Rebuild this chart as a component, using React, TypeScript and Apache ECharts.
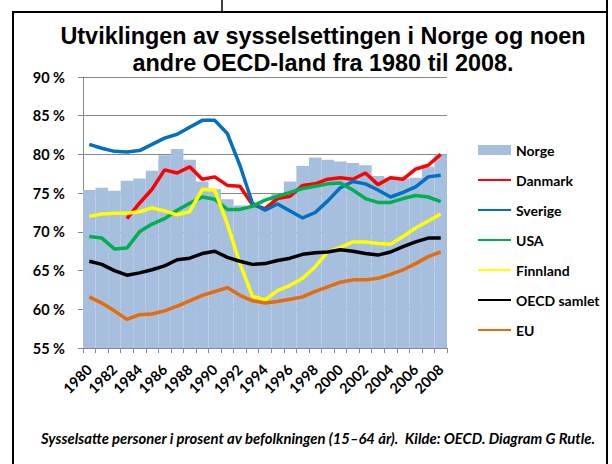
import React, { useEffect, useRef } from "react";
import * as echarts from "echarts";

const years = Array.from({ length: 29 }, (_, i) => String(1980 + i));

const norge = [75.4, 75.7, 75.3, 76.6, 76.9, 77.9, 79.9, 80.7, 79.3, 76.5, 75.5, 74.2, 73.4, 73.2, 73.0, 74.9, 76.5, 78.5, 79.6, 79.3, 79.1, 78.9, 78.6, 77.2, 77.0, 76.9, 77.0, 78.4, 80.0];
const danmark = [null, null, null, 71.7, 73.7, 75.5, 78.0, 77.6, 78.4, 76.8, 77.1, 76.0, 75.9, 73.5, 73.0, 74.3, 74.6, 76.0, 76.2, 76.8, 77.0, 76.8, 77.6, 76.1, 77.0, 76.8, 78.1, 78.6, 80.0];
const sverige = [81.3, 80.8, 80.4, 80.3, 80.5, 81.3, 82.1, 82.6, 83.5, 84.4, 84.4, 82.7, 78.6, 73.7, 72.8, 73.6, 72.7, 71.8, 72.5, 74.0, 75.7, 76.5, 76.2, 75.4, 74.5, 75.1, 75.8, 77.1, 77.3];
const usa = [69.4, 69.2, 67.8, 67.9, 70.0, 71.0, 71.7, 72.8, 73.7, 74.5, 74.2, 72.9, 72.9, 73.3, 74.1, 74.6, 75.1, 75.6, 75.9, 76.2, 76.3, 75.4, 74.3, 73.8, 73.8, 74.3, 74.7, 74.5, 73.9];
const finnland = [72.0, 72.3, 72.4, 72.4, 72.6, 73.1, 72.7, 72.2, 72.6, 75.5, 75.4, 71.0, 65.9, 61.7, 61.2, 62.4, 63.1, 64.0, 65.5, 67.4, 68.0, 68.7, 68.7, 68.5, 68.4, 69.4, 70.5, 71.4, 72.3];
const oecd = [66.2, 65.8, 65.0, 64.4, 64.7, 65.1, 65.6, 66.4, 66.6, 67.2, 67.5, 66.7, 66.2, 65.8, 65.9, 66.3, 66.6, 67.1, 67.3, 67.4, 67.7, 67.5, 67.2, 67.0, 67.4, 68.1, 68.7, 69.2, 69.2];
const eu = [61.6, 60.8, 59.8, 58.7, 59.3, 59.4, 59.8, 60.4, 61.1, 61.8, 62.3, 62.8, 61.8, 61.1, 60.8, 61.0, 61.3, 61.6, 62.3, 62.9, 63.5, 63.8, 63.8, 64.0, 64.5, 65.1, 65.9, 66.8, 67.4];

const titleLines = ["Utviklingen av sysselsettingen i Norge og noen", "andre OECD-land fra 1980 til 2008."];
const footnote = "Sysselsatte personer i prosent av befolkningen (15\u201364 år).  Kilde: OECD. Diagram G Rutle.";

const FONT = "Lato, 'Open Sans', sans-serif";

export default function App() {
  const ref = useRef<HTMLDivElement>(null);
  useEffect(() => {
    if (!ref.current) return;
    const chart = echarts.init(ref.current, null, { renderer: "svg" });
    const lineSeries = (name: string, data: (number | null)[], color: string) => ({
      name,
      type: "line",
      data,
      symbol: "none",
      smooth: false,
      connectNulls: false,
      lineStyle: { color, width: 3.5 },
      itemStyle: { color },
      z: 3,
    });
    const lineLegend = (name: string) => ({ name, itemStyle: { opacity: 0 } });
    chart.setOption({
      animation: false,
      backgroundColor: "#fff",
      textStyle: { fontFamily: FONT },
      title: {
        text: titleLines.join("\n"),
        left: 318,
        textAlign: "center",
        top: 17,
        textStyle: {
          fontFamily: "'Liberation Sans', Arial, sans-serif",
          fontSize: 23.4,
          fontWeight: "bold",
          color: "#000",
          lineHeight: 27,
        },
      },
      legend: {
        orient: "vertical",
        left: 472,
        top: 130,
        itemWidth: 33,
        itemHeight: 10,
        itemGap: 0,
        textStyle: {
          fontFamily: FONT,
          fontSize: 14,
          fontWeight: "bold",
          color: "#000",
          lineHeight: 30,
        },
        data: [
          { name: "Norge", icon: "rect" },
          lineLegend("Danmark"),
          lineLegend("Sverige"),
          lineLegend("USA"),
          lineLegend("Finnland"),
          lineLegend("OECD samlet"),
          lineLegend("EU"),
        ],
      },
      grid: { left: 83, right: 165, top: 77, bottom: 116, containLabel: false },
      xAxis: {
        type: "category",
        data: years,
        boundaryGap: true,
        axisLine: { lineStyle: { color: "#888", width: 1 } },
        axisTick: { show: true, interval: 0, length: 5, lineStyle: { color: "#888" } },
        axisLabel: {
          interval: 1,
          rotate: 45,
          fontFamily: FONT,
          fontSize: 14.5,
          fontWeight: "bold",
          color: "#000",
          margin: 19,
        },
        splitLine: { show: false },
      },
      yAxis: {
        type: "value",
        min: 55,
        max: 90,
        interval: 5,
        axisLine: { show: true, lineStyle: { color: "#888", width: 1 } },
        axisTick: { show: true, length: 5, lineStyle: { color: "#888" } },
        axisLabel: {
          formatter: (v: number) => `${v} %`,
          fontFamily: FONT,
          fontSize: 14.5,
          fontWeight: "bold",
          color: "#000",
          margin: 18,
        },
        splitLine: { show: true, lineStyle: { color: "#868686", width: 1 } },
      },
      series: [
        {
          name: "Norge",
          type: "bar",
          data: norge,
          barWidth: "100%",
          barCategoryGap: "0%",
          itemStyle: { color: "#A7BFDE" },
          z: 1,
        },
        lineSeries("Danmark", danmark, "#FF0000"),
        lineSeries("Sverige", sverige, "#0070C0"),
        lineSeries("USA", usa, "#00B050"),
        lineSeries("Finnland", finnland, "#FFFF00"),
        lineSeries("OECD samlet", oecd, "#000000"),
        lineSeries("EU", eu, "#E46C0A"),
      ],
      graphic: [
        { type: "line", shape: { x1: 13, y1: 12, x2: 13, y2: 464 }, style: { stroke: "#000", lineWidth: 2 } },
        { type: "line", shape: { x1: 12, y1: 12, x2: 608, y2: 12 }, style: { stroke: "#000", lineWidth: 2 } },
        { type: "line", shape: { x1: 607, y1: 0, x2: 607, y2: 464 }, style: { stroke: "#000", lineWidth: 2 } },
        { type: "line", shape: { x1: 222, y1: 0, x2: 222, y2: 12 }, style: { stroke: "#000", lineWidth: 1.5 } },
        {
          type: "text",
          x: 318,
          y: 438,
          style: {
            text: footnote,
            fontFamily: FONT,
            fontSize: 14.8,
            fontWeight: "bold",
            fontStyle: "italic",
            fill: "#000",
            textAlign: "center",
            textVerticalAlign: "middle",
          },
        },
      ],
    });
    return () => chart.dispose();
  }, []);
  return (
    <div
      ref={ref}
      style={{ position: "absolute", left: 0, top: 0, width: 612, height: 464 }}
    />
  );
}
